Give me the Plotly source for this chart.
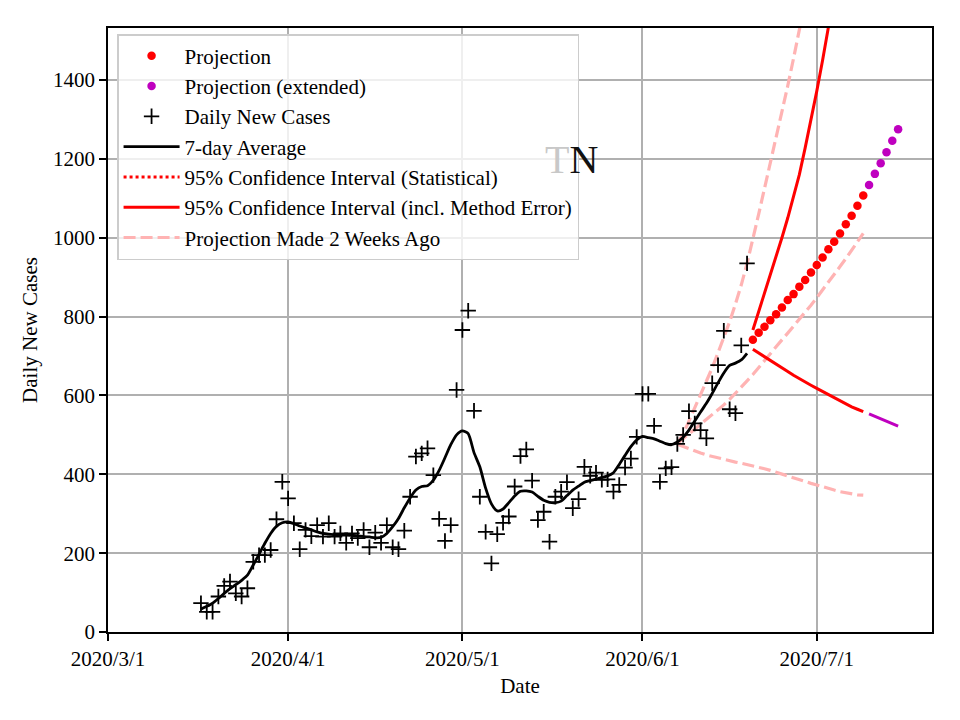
import plotly.graph_objects as go
import pandas as pd

# ---------------- data ----------------
daily_start = "2020-03-17"
daily_cases = [
    73, 51, 51, 90, 117, 128, 98, 90, 111, 178,          # 3/17 - 3/26
    195, 195, 208, 286, 381, 339, 276, 210, 259, 243,    # 3/27 - 4/5
    271, 242, 276, 242, 250, 226, 250, 238, 259, 215,    # 4/6 - 4/15
    252, 226, 271, 215, 210, 257, 343, 445, 453, 466,    # 4/16 - 4/25
    398, 287, 231, 271, 614, 766, 815, 561, 343, 254,    # 4/26 - 5/5
    174, 248, 277, 293, 369, 446, 463, 384, 284, 305,    # 5/6 - 5/15
    229, 343, 356, 380, 314, 337, 419, 396, 404, 386,    # 5/16 - 5/25
    387, 356, 373, 417, 440, 495, 604, 604, 523, 381,    # 5/26 - 6/4
    415, 418, 477, 500, 560, 529, 512, 491, 631, 677,    # 6/5 - 6/14
    764, 565, 555, 727, 935,                             # 6/15 - 6/19
]
avg_7day = [
    58, 65, 73, 85, 98, 110, 120, 131, 144, 170,
    197, 225, 250, 268, 277, 279, 275, 269, 264, 259,
    254, 250, 248, 247, 246, 246, 245, 244, 242, 241,
    239, 240, 250, 267, 288, 315, 340, 360, 369, 371,
    385, 410, 442, 475, 500, 510, 503, 455, 419, 365,
    325, 307, 312, 328, 345, 357, 358, 355, 344, 334,
    329, 328, 332, 346, 360, 370, 380, 384, 388, 392,
    396, 404, 425, 448, 470, 487, 496, 493, 490, 484,
    478, 475, 482, 494, 512, 535, 558, 580, 605, 632,
    657, 676, 682, 690, 707,
]

proj_start = "2020-06-20"
projection = [741, 759, 774, 791, 806, 823, 842, 857, 876, 893,
              912, 931, 950, 971, 990, 1011, 1034, 1056, 1081, 1107]
proj_ext_start = "2020-07-10"
projection_ext = [1134, 1162, 1189, 1217, 1246, 1275]

ci_upper = [766, 812, 858, 905, 953, 1000, 1050, 1103, 1160, 1228,
            1298, 1372, 1450, 1532, 1618]
ci_lower = [717, 708, 699, 690, 680, 670, 661, 651, 642, 634,
            626, 618, 610, 602, 593, 585, 578, 571, 565, 559]
ci_lower_ext = [553, 547, 540, 534, 528, 522]

old_start = "2020-06-07"
old_mid = [478, 490, 502, 515, 527, 540, 552, 564, 576, 590,
           605, 621, 637, 653, 671, 690, 707, 724, 741, 758,
           775, 793, 811, 829, 848, 867, 887, 907, 927, 947,
           968, 989, 1011]
old_upper = [478, 502, 535, 568, 602, 635, 670, 708, 747, 787,
             832, 880, 935, 995, 1060, 1125, 1188, 1252, 1318, 1385,
             1455, 1527, 1600]
old_lower = [476, 470, 464, 459, 454, 449, 445, 441, 437, 434,
             431, 428, 425, 422, 418, 414, 410, 405, 400, 396,
             391, 386, 382, 377, 373, 368, 364, 360, 356, 353,
             350, 348, 347]

x_tick_vals = ["2020-03-01", "2020-04-01", "2020-05-01", "2020-06-01", "2020-07-01"]
x_tick_text = ["2020/3/1", "2020/4/1", "2020/5/1", "2020/6/1", "2020/7/1"]
y_tick_vals = [0, 200, 400, 600, 800, 1000, 1200, 1400]


def dates(start, n):
    return pd.date_range(start, periods=n, freq="D")


FONT = "Liberation Serif, Times New Roman, serif"
FS = 21
RED = "#ff0000"
MAG = "#bf00bf"
PINK = "#ffb3b3"

fig = go.Figure()

# Projection made 2 weeks ago (pink dashed)
for i, ys in enumerate([old_upper, old_mid, old_lower]):
    fig.add_trace(go.Scatter(
        x=dates(old_start, len(ys)), y=ys, mode="lines",
        line=dict(color=PINK, width=3.2, dash="12px,5px"),
        name="Projection Made 2 Weeks Ago", legendgroup="old",
        showlegend=(i == 0), legendrank=7,
    ))

# daily new cases
fig.add_trace(go.Scatter(
    x=dates(daily_start, len(daily_cases)), y=daily_cases, mode="markers",
    marker=dict(symbol="cross-thin", size=11, line=dict(color="black", width=1.8)),
    name="Daily New Cases", legendrank=3,
))

# 7-day average
fig.add_trace(go.Scatter(
    x=dates(daily_start, len(avg_7day)), y=avg_7day, mode="lines",
    line=dict(color="black", width=2.8, shape="spline", smoothing=0.6),
    name="7-day Average", legendrank=4,
))

# statistical CI (legend entry only, hidden under projection)
fig.add_trace(go.Scatter(
    x=[None], y=[None], mode="lines",
    line=dict(color=RED, width=3, dash="dot"),
    name="95% Confidence Interval (Statistical)", legendrank=5,
))

# CI incl. method error
fig.add_trace(go.Scatter(
    x=dates(proj_start, len(ci_upper)), y=ci_upper, mode="lines",
    line=dict(color=RED, width=3),
    name="95% Confidence Interval (incl. Method Error)", legendgroup="ci",
    legendrank=6,
))
fig.add_trace(go.Scatter(
    x=dates(proj_start, len(ci_lower)), y=ci_lower, mode="lines",
    line=dict(color=RED, width=3), legendgroup="ci", showlegend=False,
))
fig.add_trace(go.Scatter(
    x=dates(proj_ext_start, len(ci_lower_ext)), y=ci_lower_ext, mode="lines",
    line=dict(color=MAG, width=3), showlegend=False,
))

# projections
fig.add_trace(go.Scatter(
    x=dates(proj_start, len(projection)), y=projection, mode="markers",
    marker=dict(symbol="circle", size=8.5, color=RED),
    name="Projection", legendrank=1,
))
fig.add_trace(go.Scatter(
    x=dates(proj_ext_start, len(projection_ext)), y=projection_ext, mode="markers",
    marker=dict(symbol="circle", size=8.5, color=MAG),
    name="Projection (extended)", legendrank=2,
))

fig.add_annotation(
    xref="paper", yref="paper", x=0.563, y=0.782,
    text="<span style='color:#c8c8c8'>T</span><span style='color:#111111'>N</span>",
    showarrow=False, font=dict(family=FONT, size=40),
    xanchor="center", yanchor="middle",
)

axis_common = dict(
    showline=True, linecolor="black", linewidth=1.7, mirror=True,
    ticks="outside", ticklen=7, tickwidth=1.7, tickcolor="black",
    showgrid=True, gridcolor="#b0b0b0", gridwidth=1.6,
    zeroline=False, tickfont=dict(family=FONT, size=FS, color="black"),
)

fig.update_layout(
    width=960, height=720,
    margin=dict(l=100, r=36, t=20, b=96),
    paper_bgcolor="white", plot_bgcolor="white",
    font=dict(family=FONT, size=FS, color="black"),
    showlegend=True,
    legend=dict(
        x=0.011, y=0.99, xanchor="left", yanchor="top",
        bgcolor="rgba(255,255,255,0.8)", bordercolor="#cccccc", borderwidth=1.5,
        font=dict(family=FONT, size=FS, color="black"),
        itemwidth=56, tracegroupgap=0,
    ),
    xaxis=dict(
        axis_common, type="date",
        range=["2020-03-01", "2020-07-20 20:00"],
        tickvals=x_tick_vals, ticktext=x_tick_text,
        title=dict(text="Date", font=dict(family=FONT, size=FS), standoff=8),
    ),
    yaxis=dict(
        axis_common, range=[0, 1532], tickvals=y_tick_vals,
        title=dict(text="Daily New Cases", font=dict(family=FONT, size=FS), standoff=10),
    ),
)

fig.write_html("out.html")
